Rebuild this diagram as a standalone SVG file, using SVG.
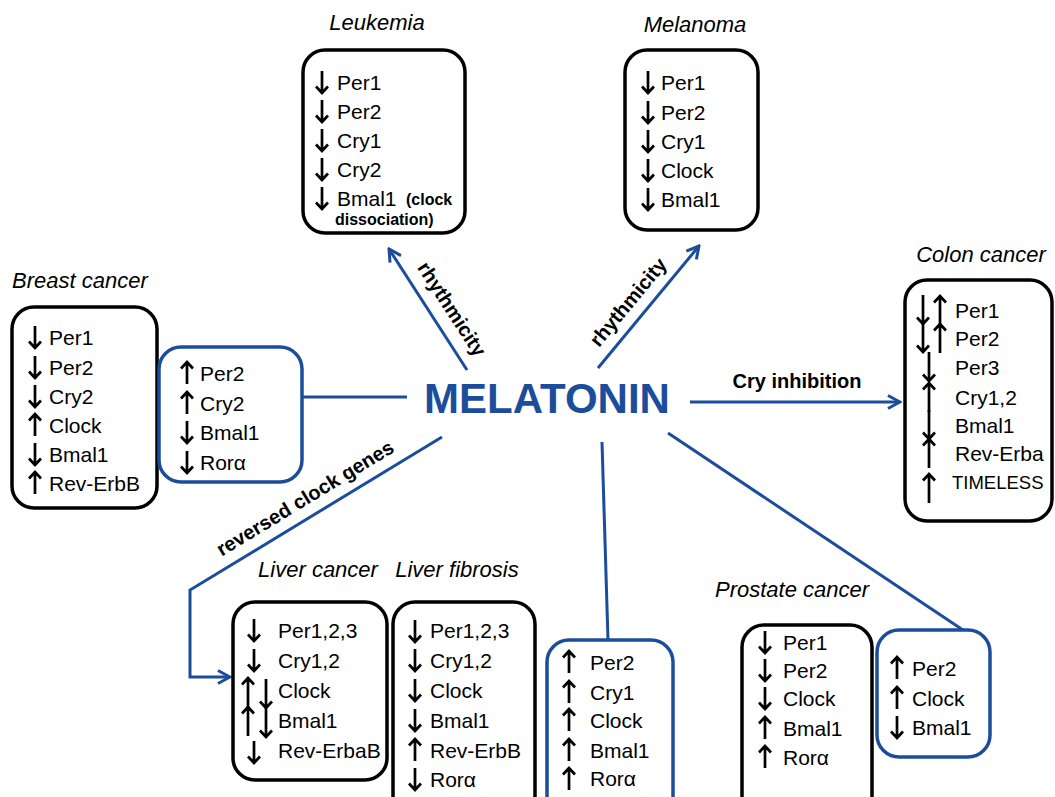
<svg xmlns="http://www.w3.org/2000/svg" xmlns:xlink="http://www.w3.org/1999/xlink" width="1055" height="797" viewBox="0 0 1055 797">
<style>
.box{fill:#fff;stroke:#000;stroke-width:3.5}
.bbox{fill:#fff;stroke:#1c4d9b;stroke-width:3.5}
.t{font-family:"Liberation Sans",Arial,sans-serif;font-size:21px;fill:#000}
.ti{font-family:"Liberation Sans",Arial,sans-serif;font-size:22px;font-style:italic;fill:#000}
.sb{font-family:"Liberation Sans",Arial,sans-serif;font-size:16px;font-weight:bold;fill:#000}
.lbl{font-family:"Liberation Sans",Arial,sans-serif;font-size:20px;font-weight:bold;fill:#000}
.mel{font-family:"Liberation Sans",Arial,sans-serif;font-size:42px;font-weight:bold;fill:#1c4d9b}
.con{stroke:#1c4d9b;stroke-width:3;fill:none}
.ar{stroke:#000;stroke-width:2.7;fill:none}
</style>
<defs>
<marker id="ah" viewBox="0 0 16 16" refX="14" refY="8" markerWidth="16" markerHeight="16" markerUnits="userSpaceOnUse" orient="auto">
<path d="M2,1.5 L14,8 L2,14.5" fill="none" stroke="#1c4d9b" stroke-width="3"/>
</marker>
<path id="dn" class="ar" d="M0,-11V11M-6,4.5L0,11L6,4.5"/>
<path id="up" class="ar" d="M0,11V-11M-6,-4.5L0,-11L6,-4.5"/>
<path id="dnL" class="ar" d="M0,-15V14M-6,7.5L0,14L6,7.5"/>
<path id="upL" class="ar" d="M0,15V-14M-6,-7.5L0,-14L6,-7.5"/>
</defs>
<rect width="1055" height="797" fill="#fff"/>

<g id="connectors">
<line class="con" x1="467" y1="370" x2="389" y2="249" marker-end="url(#ah)"/>
<line class="con" x1="598" y1="368" x2="699" y2="246" marker-end="url(#ah)"/>
<line class="con" x1="690" y1="402" x2="900" y2="402" marker-end="url(#ah)"/>
<line class="con" x1="302" y1="397" x2="407" y2="397"/>
<polyline class="con" points="442,437 190,590 190,677 230,677" marker-end="url(#ah)"/>
<line class="con" x1="602" y1="442" x2="608" y2="640"/>
<line class="con" x1="668" y1="433" x2="963" y2="630"/>
<text class="lbl" text-anchor="middle" transform="translate(452,309) rotate(57)" y="7">rhythmicity</text>
<text class="lbl" text-anchor="middle" transform="translate(628,302) rotate(-50.4)" y="7">rhythmicity</text>
<text class="lbl" text-anchor="middle" x="797" y="388">Cry inhibition</text>
<text class="lbl" text-anchor="middle" transform="translate(305,498) rotate(-31.3)" y="7">reversed clock genes</text>
</g>

<g id="melatonin">
<text class="mel" x="547" y="413" text-anchor="middle">MELATONIN</text>
</g>

<g id="leukemia">
<text class="ti" x="377" y="30" text-anchor="middle">Leukemia</text>
<rect class="box" x="303" y="50" width="162" height="183" rx="22"/>
<use xlink:href="#dn" x="322" y="82"/><use xlink:href="#dn" x="322" y="111"/><use xlink:href="#dn" x="322" y="140"/><use xlink:href="#dn" x="322" y="169"/><use xlink:href="#dn" x="322" y="198"/>
<text class="t" x="337" y="89.5">Per1</text>
<text class="t" x="337" y="118.5">Per2</text>
<text class="t" x="337" y="147.5">Cry1</text>
<text class="t" x="337" y="176.5">Cry2</text>
<text class="t" x="337" y="205.5">Bmal1</text>
<text class="sb" x="406" y="205">(clock</text>
<text class="sb" x="335" y="225">dissociation)</text>
</g>

<g id="melanoma">
<text class="ti" x="695" y="32" text-anchor="middle">Melanoma</text>
<rect class="box" x="625" y="50" width="133" height="180" rx="22"/>
<use xlink:href="#dn" x="648" y="82"/><use xlink:href="#dn" x="648" y="112"/><use xlink:href="#dn" x="648" y="141"/><use xlink:href="#dn" x="648" y="170"/><use xlink:href="#dn" x="648" y="199"/>
<text class="t" x="661" y="89.5">Per1</text>
<text class="t" x="661" y="119.5">Per2</text>
<text class="t" x="661" y="148.5">Cry1</text>
<text class="t" x="661" y="177.5">Clock</text>
<text class="t" x="661" y="206.5">Bmal1</text>
</g>

<g id="breast">
<text class="ti" x="12" y="288">Breast cancer</text>
<rect class="box" x="12" y="307" width="145" height="201" rx="22"/>
<use xlink:href="#dn" x="35" y="337"/><use xlink:href="#dn" x="35" y="367"/><use xlink:href="#dn" x="35" y="396"/><use xlink:href="#up" x="35" y="425"/><use xlink:href="#dn" x="35" y="454"/><use xlink:href="#up" x="35" y="483"/>
<text class="t" x="49" y="344.5">Per1</text>
<text class="t" x="49" y="374.5">Per2</text>
<text class="t" x="49" y="403.5">Cry2</text>
<text class="t" x="49" y="432.5">Clock</text>
<text class="t" x="49" y="461.5">Bmal1</text>
<text class="t" x="49" y="490.5">Rev-ErbB</text>
</g>

<g id="breast-melatonin">
<rect class="bbox" x="159" y="347" width="143" height="135" rx="22"/>
<use xlink:href="#up" x="187" y="373"/><use xlink:href="#up" x="187" y="403"/><use xlink:href="#dn" x="187" y="432"/><use xlink:href="#dn" x="187" y="462"/>
<text class="t" x="200" y="380.5">Per2</text>
<text class="t" x="200" y="410.5">Cry2</text>
<text class="t" x="200" y="439.5">Bmal1</text>
<text class="t" x="200" y="469.5">Rorα</text>
</g>

<g id="colon">
<text class="ti" x="981" y="262" text-anchor="middle">Colon cancer</text>
<rect class="box" x="905" y="280" width="147" height="241" rx="22"/>
<use xlink:href="#dnL" x="923" y="310"/><use xlink:href="#upL" x="940" y="310"/>
<use xlink:href="#dnL" x="923" y="338"/><use xlink:href="#upL" x="940" y="338"/>
<use xlink:href="#dnL" x="929" y="367"/><use xlink:href="#upL" x="929" y="397"/><use xlink:href="#dnL" x="929" y="425"/><use xlink:href="#upL" x="929" y="453"/><use xlink:href="#upL" x="929" y="488"/>
<text class="t" x="955" y="317.5">Per1</text>
<text class="t" x="955" y="345.5">Per2</text>
<text class="t" x="955" y="374.5">Per3</text>
<text class="t" x="955" y="404.5">Cry1,2</text>
<text class="t" x="955" y="432.5">Bmal1</text>
<text class="t" x="955" y="460.5">Rev-Erba</text>
<text class="t" x="952" y="489" style="font-size:18.5px">TIMELESS</text>
</g>

<g id="liver-cancer">
<text class="ti" x="318" y="577" text-anchor="middle">Liver cancer</text>
<rect class="box" x="233" y="602" width="154" height="178" rx="22"/>
<use xlink:href="#dn" x="254" y="630"/><use xlink:href="#dn" x="254" y="660"/>
<use xlink:href="#upL" x="248" y="692"/><use xlink:href="#dnL" x="266" y="694"/>
<use xlink:href="#upL" x="248" y="721"/><use xlink:href="#dnL" x="266" y="723"/>
<use xlink:href="#dn" x="254" y="752"/>
<text class="t" x="278" y="637.5">Per1,2,3</text>
<text class="t" x="278" y="667.5">Cry1,2</text>
<text class="t" x="278" y="697.5">Clock</text>
<text class="t" x="278" y="727.5">Bmal1</text>
<text class="t" x="278" y="757.5">Rev-ErbaB</text>
</g>

<g id="liver-fibrosis">
<text class="ti" x="457" y="577" text-anchor="middle">Liver fibrosis</text>
<rect class="box" x="393" y="602" width="142" height="215" rx="22"/>
<use xlink:href="#dn" x="415" y="631"/><use xlink:href="#dn" x="415" y="660"/><use xlink:href="#dn" x="415" y="690"/><use xlink:href="#dn" x="415" y="720"/><use xlink:href="#up" x="415" y="750"/><use xlink:href="#dn" x="415" y="779"/>
<text class="t" x="430" y="637.5">Per1,2,3</text>
<text class="t" x="430" y="667.5">Cry1,2</text>
<text class="t" x="430" y="697.5">Clock</text>
<text class="t" x="430" y="727.5">Bmal1</text>
<text class="t" x="430" y="757.5">Rev-ErbB</text>
<text class="t" x="430" y="786.5">Rorα</text>
</g>

<g id="liver-melatonin">
<rect class="bbox" x="547" y="640" width="126" height="180" rx="22"/>
<use xlink:href="#up" x="569" y="662"/><use xlink:href="#up" x="569" y="692"/><use xlink:href="#up" x="569" y="720"/><use xlink:href="#up" x="569" y="750"/><use xlink:href="#up" x="569" y="779"/>
<text class="t" x="590" y="669.5">Per2</text>
<text class="t" x="590" y="699.5">Cry1</text>
<text class="t" x="590" y="727.5">Clock</text>
<text class="t" x="590" y="757.5">Bmal1</text>
<text class="t" x="590" y="785.5">Rorα</text>
</g>

<g id="prostate">
<text class="ti" x="715" y="597">Prostate cancer</text>
<rect class="box" x="742" y="625" width="130" height="200" rx="22"/>
<use xlink:href="#dn" x="765" y="642"/><use xlink:href="#dn" x="765" y="670"/><use xlink:href="#dn" x="765" y="698"/><use xlink:href="#up" x="765" y="728"/><use xlink:href="#up" x="765" y="757"/>
<text class="t" x="783" y="649.5">Per1</text>
<text class="t" x="783" y="677.5">Per2</text>
<text class="t" x="783" y="705.5">Clock</text>
<text class="t" x="783" y="735.5">Bmal1</text>
<text class="t" x="783" y="764.5">Rorα</text>
</g>

<g id="prostate-melatonin">
<rect class="bbox" x="877" y="630" width="113" height="127" rx="22"/>
<use xlink:href="#up" x="897" y="668"/><use xlink:href="#up" x="897" y="698"/><use xlink:href="#dn" x="897" y="727"/>
<text class="t" x="912" y="675.5">Per2</text>
<text class="t" x="912" y="705.5">Clock</text>
<text class="t" x="912" y="734.5">Bmal1</text>
</g>
</svg>
